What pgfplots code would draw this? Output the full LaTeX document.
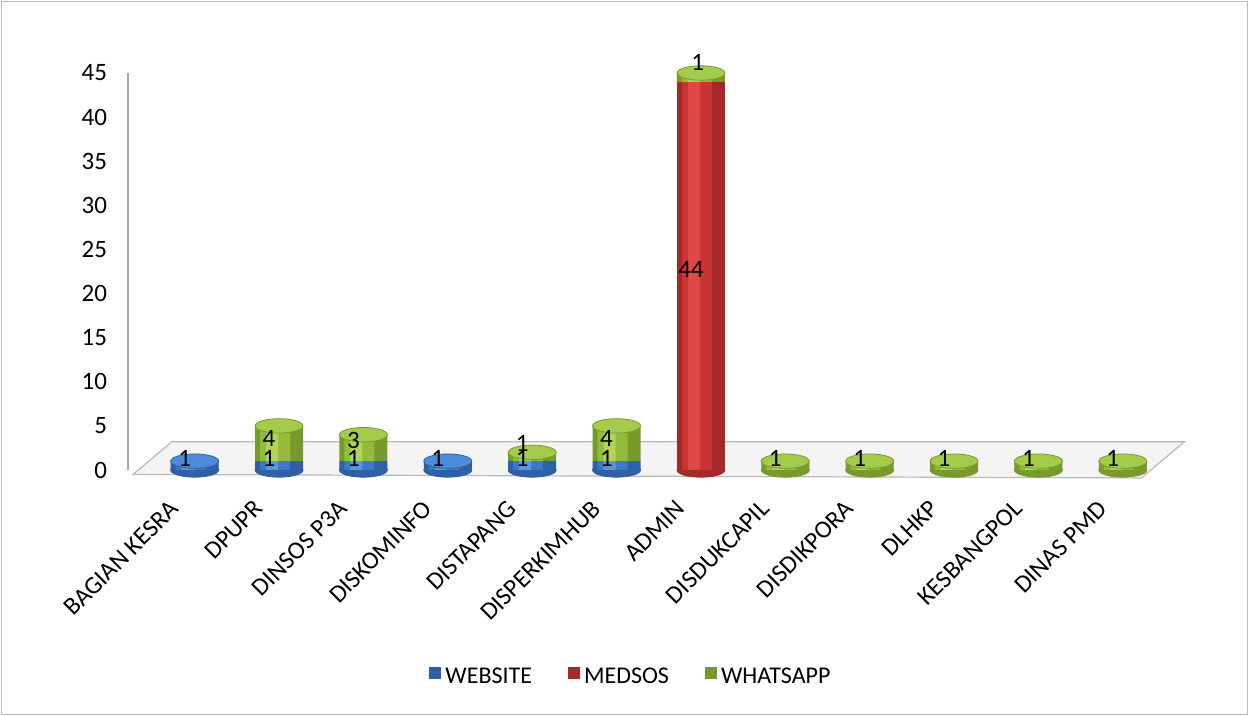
\documentclass[border=0pt]{standalone}
\usepackage{pgfplots}
\pgfplotsset{compat=1.18}
\usepackage{pgfplotstable}
\usepackage{fontspec}
\setmainfont{Carlito}
\definecolor{blueD}{HTML}{2D60A4}
\definecolor{blueM}{HTML}{3B79C8}
\definecolor{blueL}{HTML}{5A95DE}
\definecolor{blueC}{HTML}{4F8BD8}
\definecolor{redD}{HTML}{A5282A}
\definecolor{redM}{HTML}{C93333}
\definecolor{redL}{HTML}{E04843}
\definecolor{greenD}{HTML}{789A2B}
\definecolor{greenM}{HTML}{93BB3C}
\definecolor{greenL}{HTML}{AFD457}
\definecolor{greenC}{HTML}{A4CB4B}
\pgfplotstableread{
x w m a
0 1 0 0
1 1 0 4
2 1 0 3
3 1 0 0
4 1 0 1
5 1 0 4
6 0 44 1
7 0 0 1
8 0 0 1
9 0 0 1
10 0 0 1
11 0 0 1
}\datatable
\pgfplotsset{
  base/.style={at={(64pt,123pt)}, anchor=south west,
    scale only axis, width=518.5pt, height=198.5pt, clip=false,
    xmin=-0.79, xmax=11.5, ymin=0, ymax=45},
  over/.style={base, hide axis},
  cap/.style={only marks, mark=*, mark size=12pt},
}
\begin{document}
\begin{tikzpicture}
\path[use as bounding box] (0,0) rectangle (624.5pt,358pt);
\draw[gray!55, line width=0.5pt] (0.75pt,0.75pt) rectangle (623.75pt,357.25pt);
% floor and bottom caps
\begin{axis}[over]
\fill[gray!9, draw=gray!55, line width=0.6pt] (axis cs:-0.73,-0.5) -- (axis cs:-0.27,3.2) -- (axis cs:11.73,3.2) -- (axis cs:11.22,-0.9) -- cycle;
\addplot[cap, mark options={yscale=0.3, fill=blueD, draw=blueD}] coordinates {(0,0) (1,0) (2,0) (3,0) (4,0) (5,0)};
\addplot[cap, mark options={yscale=0.3, fill=redD, draw=redD}] coordinates {(6,0)};
\addplot[cap, mark options={yscale=0.3, fill=greenD, draw=greenD}] coordinates {(7,0) (8,0) (9,0) (10,0) (11,0)};
\end{axis}
% main bars, ticks, legend
\begin{axis}[base,
  ybar stacked, bar width=24pt,
  ytick={0,5,...,45},
  xtick={0,...,11},
  xticklabels={BAGIAN KESRA,DPUPR,DINSOS P3A,DISKOMINFO,DISTAPANG,DISPERKIMHUB,ADMIN,DISDUKCAPIL,DISDIKPORA,DLHKP,KESBANGPOL,DINAS PMD},
  major tick length=0pt,
  axis y line*=left, axis x line*=bottom,
  x axis line style={draw=none},
  y axis line style={draw=gray!70, line width=0.9pt},
  tick label style={font=\fontsize{12.5}{14}\selectfont},
  /pgf/number format/assume math mode=true,
  yticklabel style={xshift=-7pt},
  xticklabel style={xshift=-13pt, yshift=-9.5pt, rotate=45, anchor=north east},
  legend style={at={(0.486,-0.521)}, anchor=center, draw=none, legend columns=3,
    font=\fontsize{12}{14}\selectfont,
    /tikz/every even column/.append style={column sep=16pt}},
  legend image code/.code={\fill[#1, draw=none] (0pt,-1pt) rectangle (6pt,5pt);},
]
\addplot[draw=none, fill=blueD] table[x=x, y=w] {\datatable};
\addplot[draw=none, fill=redD] table[x=x, y=m] {\datatable};
\addplot[draw=none, fill=greenD] table[x=x, y=a] {\datatable};
\legend{WEBSITE,MEDSOS,WHATSAPP}
\end{axis}
% middle bands
\begin{axis}[over, ybar stacked, bar width=15pt, bar shift=-2pt]
\addplot[draw=none, fill=blueM] table[x=x, y=w] {\datatable};
\addplot[draw=none, fill=redM] table[x=x, y=m] {\datatable};
\addplot[draw=none, fill=greenM] table[x=x, y=a] {\datatable};
\end{axis}
% light bands
\begin{axis}[over, ybar stacked, bar width=6pt, bar shift=-3.5pt]
\addplot[draw=none, fill=blueL] table[x=x, y=w] {\datatable};
\addplot[draw=none, fill=redL] table[x=x, y=m] {\datatable};
\addplot[draw=none, fill=greenL] table[x=x, y=a] {\datatable};
\end{axis}
% top caps and value labels
\begin{axis}[over]
\addplot[cap, mark options={yscale=0.3, fill=blueC, draw=blueD, line width=0.4pt}] coordinates {(0,1) (3,1)};
\addplot[cap, mark options={yscale=0.3, fill=greenC, draw=greenD, line width=0.4pt}] coordinates {(1,5) (2,4) (4,2) (5,5) (6,45) (7,1) (8,1) (9,1) (10,1) (11,1)};
\addplot[draw=none, mark=none, point meta=explicit symbolic, nodes near coords,
  every node near coord/.append style={font=\fontsize{12.5}{14}\selectfont, anchor=center, inner sep=0pt, xshift=-5pt}]
  coordinates {
  (0,1.36)[1] (1,1.36)[1] (2,1.36)[1] (3,1.36)[1] (4,1.36)[1] (5,1.36)[1]
  (6,22.7)[44]
  (1,3.6)[4] (2,3.3)[3] (4,3.0)[1] (5,3.6)[4] (6.08,46.2)[1]
  (7,1.36)[1] (8,1.36)[1] (9,1.36)[1] (10,1.36)[1] (11,1.36)[1]
  };
\end{axis}
\end{tikzpicture}
\end{document}
